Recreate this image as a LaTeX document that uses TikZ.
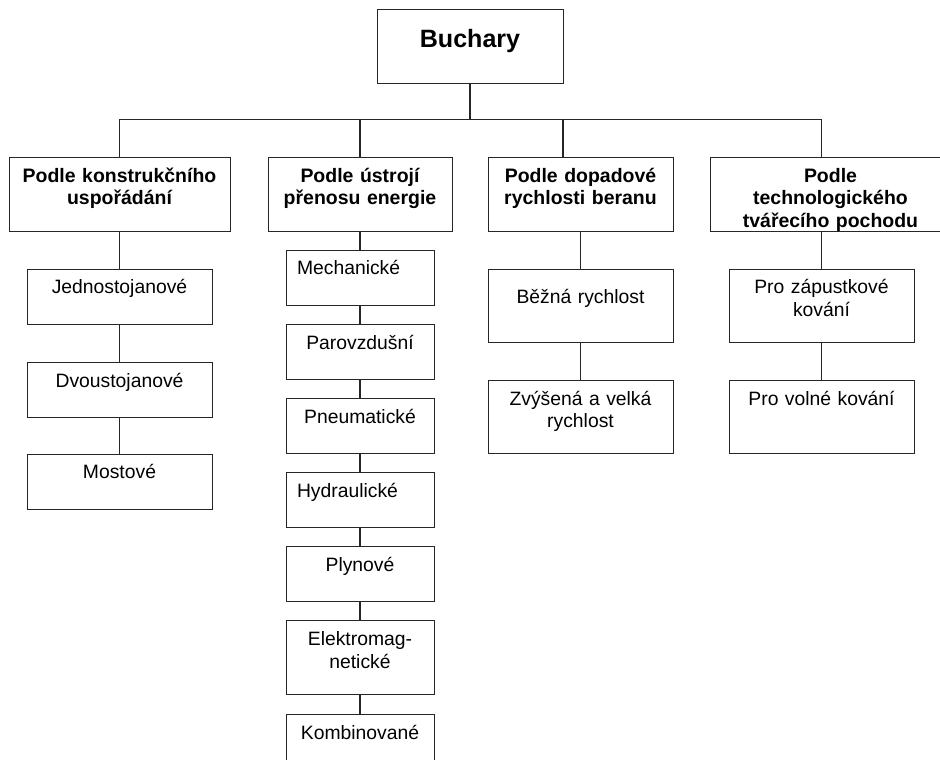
\documentclass[tikz,border=0pt]{standalone}
\usepackage{fontspec}
\setmainfont{Liberation Sans}
\usetikzlibrary{positioning}
\newdimen\pxu
\pxu=0.75pt
\tikzset{
  every node/.style={font=\fontsize{14.5}{16.9}\selectfont},
  root/.style={draw=black!85, inner ysep=0pt, minimum width=186\pxu, text height=38\pxu, text depth=36\pxu, font=\bfseries\fontsize{18.8}{22}\selectfont},
  group/.style={draw=black!85, inner ysep=0pt, inner xsep=2\pxu, align=center, text width=#1, text height=25\pxu, text depth=49\pxu, font=\bfseries\fontsize{14.6}{16.9}\selectfont},
  item/.style={draw=black!85, inner ysep=0pt, inner xsep=2\pxu, align=center, text width=181\pxu, text height=25\pxu, text depth=30\pxu},
  itemb/.style={item, text width=126\pxu, inner xsep=11\pxu},
  tall/.style={text depth=48\pxu},
  link/.style={draw=black!85, line width=0.8pt}
}
\begin{document}
\begin{tikzpicture}[x=0.75pt, y=-0.75pt]
\useasboundingbox (0,0) rectangle (940,760);

\node[root, anchor=north] (buch) at (470,9) {Buchary};

% skupiny
\node[group=217\pxu, anchor=north] (konst) at (119.5,157) {Podle konstrukčního\\uspořádání};
\node[group=180\pxu, anchor=north] (prenos) at (360,157) {Podle ústrojí\\přenosu energie};
\node[group=181\pxu, anchor=north] (rychl) at (580.5,157) {Podle dopadové\\rychlosti beranu};
\node[group=236\pxu, anchor=north] (techn) at (830.5,157) {Podle\\technologického\\tvářecího pochodu};

% podle konstrukce
\node[item, below=37\pxu of konst] (jedno) {Jednostojanové};
\node[item, below=38\pxu of jedno] (dvou) {Dvoustojanové};
\node[item, below=36\pxu of dvou] (most) {Mostové};

% podle prenosu energie
\node[itemb, align=left, below=18\pxu of prenos] (mech) {Mechanické};
\node[itemb, below=19\pxu of mech] (parov) {Parovzdušní};
\node[itemb, below=18.5\pxu of parov] (pneu) {Pneumatické};
\node[itemb, align=left, below=18.5\pxu of pneu] (hydr) {Hydraulické};
\node[itemb, below=18.5\pxu of hydr] (plyn) {Plynové};
\node[itemb, tall, text depth=49\pxu, below=18.5\pxu of plyn] (elmag) {Elektromag-\\netické};
\node[itemb, below=19\pxu of elmag] (komb) {Kombinované};

% podle rychlosti
\node[item, tall, text height=35\pxu, text depth=38\pxu, below=37\pxu of rychl] (bezna) {Běžná rychlost};
\node[item, tall, below=38\pxu of bezna] (zvys) {Zvýšená a velká\\rychlost};

% podle pochodu
\node[item, tall, below=37\pxu of techn, xshift=-9\pxu] (zapust) {Pro zápustkové\\kování};
\node[item, tall, below=38\pxu of zapust] (volne) {Pro volné kování};

% spoje
\draw[link] (buch.south) -- ++(0,36) coordinate (bus);
\draw[link] (bus) -| (konst.north);
\draw[link] (bus) -| (prenos.north);
\draw[link] (bus) -| ([xshift=-17.5\pxu]rychl.north);
\draw[link] (bus) -| (zapust.north |- techn.north);

\draw[link] (konst.south) -- (jedno.north);
\draw[link] (zapust.north |- techn.south) -- (zapust.north);
\foreach \a/\b in {jedno/dvou, dvou/most, prenos/mech, mech/parov, parov/pneu,
                   pneu/hydr, hydr/plyn, plyn/elmag, elmag/komb,
                   rychl/bezna, bezna/zvys, zapust/volne}
  \draw[link] (\a.south) -- (\b.north);

\end{tikzpicture}
\end{document}
